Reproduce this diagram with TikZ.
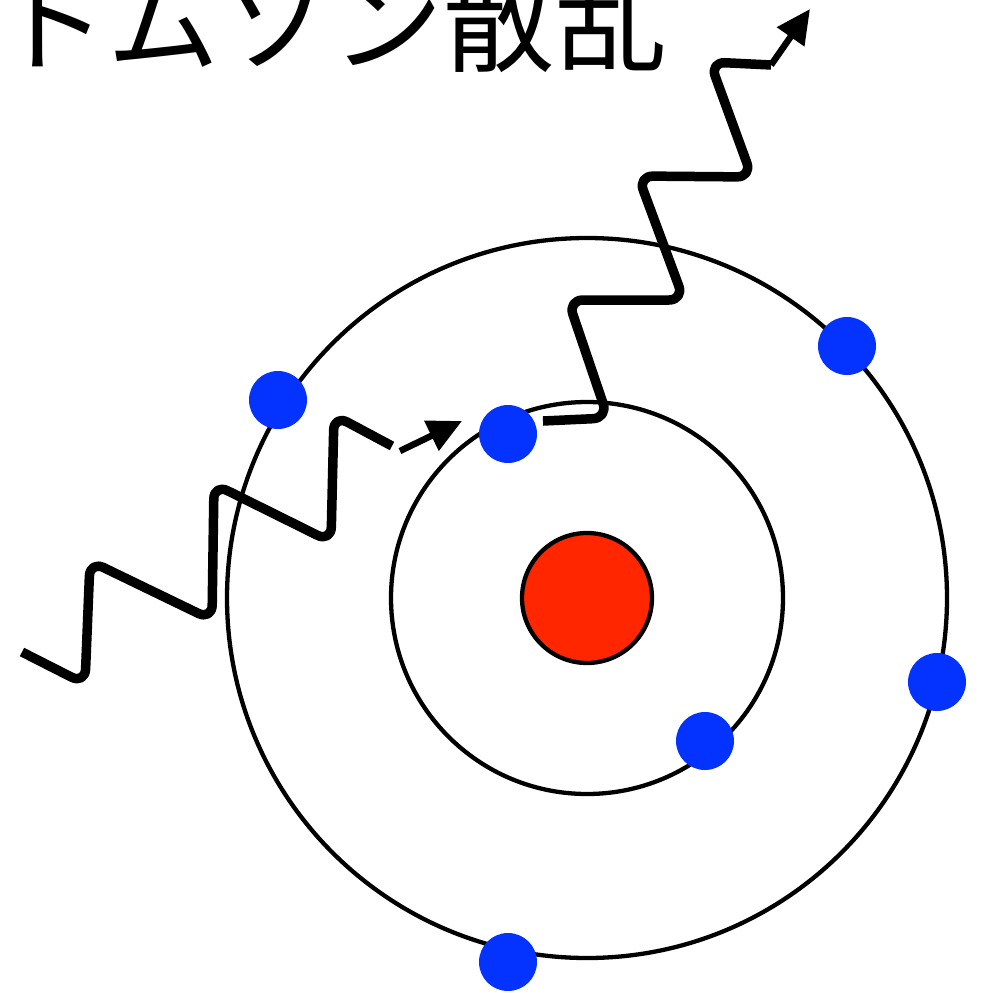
\documentclass[tikz,border=0pt]{standalone}
\usepackage{fontspec}
\newfontfamily\jpfont{Noto Sans CJK JP}
\usetikzlibrary{arrows.meta}
\definecolor{eblue}{RGB}{4,51,255}
\definecolor{nred}{RGB}{255,38,0}
\begin{document}
\begin{tikzpicture}[x=1pt,y=-1pt,
  orbit/.style={line width=4.3pt},
  electron/.style={circle,fill=eblue,minimum size=58pt,inner sep=0pt},
  nucleus/.style={circle,draw,line width=4.3pt,fill=nred,minimum size=130pt,inner sep=0pt},
  photon/.style={line width=9.5pt,rounded corners=15pt,line join=round},
  photonarrow/.style={line width=6.5pt,-{Triangle[length=34pt,width=32pt]}}]
\clip (0,0) rectangle (981,993);
\fill[white] (0,0) rectangle (981,993);
% title
\node[anchor=base west,inner sep=0pt,font=\jpfont\fontsize{112}{112}\selectfont] (title) at (-5,63) {トムソン散乱};
% atom: nucleus and two shells
\node[nucleus] (nuc) at (587,598) {};
\draw[orbit] (nuc.center) circle[radius=196];
\draw[orbit] (nuc.center) circle[radius=360];
% electrons
\node[electron] (ein1) at (508,434) {};
\node[electron] (ein2) at (705,741) {};
\node[electron] (eout1) at (278,400) {};
\node[electron] (eout2) at (847,346) {};
\node[electron] (eout3) at (937,682) {};
\node[electron] (eout4) at (508,962) {};
% incoming photon
\coordinate (inStart) at (22,652);
\coordinate (inEnd) at (392,446);
\coordinate (inArrowTail) at (400,451);
\coordinate (inArrowTip) at (462,421);
\draw[photon] (inStart) -- (85,684) -- (90,561) -- (212,620) -- (214,484)
  -- (331,542) -- (334,415) -- (inEnd);
\draw[photonarrow] (inArrowTail) -- (inArrowTip);
% scattered photon
\coordinate (outStart) at (543,421);
\coordinate (outEnd) at (771,65);
\coordinate (outArrowTip) at (810,9);
\draw[photon] (outStart) -- (608,418) -- (568,300) -- (684,300) -- (638,176)
  -- (752,177) -- (710,62) -- (outEnd);
\draw[photonarrow] (outEnd) -- (outArrowTip);
\end{tikzpicture}
\end{document}
